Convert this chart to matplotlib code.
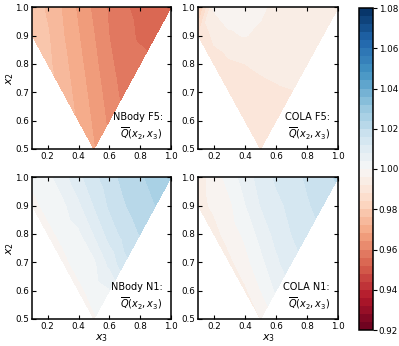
import numpy as np
import matplotlib
matplotlib.use('Agg')
import matplotlib.pyplot as plt
import matplotlib.tri as mtri

nan = np.nan

# grid of triangle configurations: columns x3, rows x2
x3_grid = [0.1, 0.2, 0.3, 0.4, 0.5, 0.6, 0.7, 0.8, 0.9, 1.0]
x2_grid = [1.0, 0.9, 0.8, 0.7, 0.6, 0.5]

# reduced bispectrum ratio
q_nbody_f5 = [
    [0.9785, 0.9753, 0.9715, 0.9672, 0.9630, 0.9593, 0.9563, 0.9552, 0.9543, 0.9535],
    [0.9790, 0.9764, 0.9722, 0.9682, 0.9641, 0.9599, 0.9570, 0.9555, 0.9547, nan],
    [nan, 0.9770, 0.9733, 0.9692, 0.9651, 0.9609, 0.9576, 0.9570, nan, nan],
    [nan, nan, 0.9743, 0.9702, 0.9662, 0.9620, 0.9585, nan, nan, nan],
    [nan, nan, nan, 0.9712, 0.9672, 0.9630, nan, nan, nan, nan],
    [nan, nan, nan, nan, 0.9682, nan, nan, nan, nan, nan],
]
q_cola_f5 = [
    [0.9780, 0.9965, 0.9980, 0.9980, 0.9970, 0.9945, 0.9945, 0.9945, 0.9945, 0.9940],
    [0.9880, 0.9930, 0.9955, 0.9962, 0.9950, 0.9942, 0.9942, 0.9942, 0.9942, nan],
    [nan, 0.9900, 0.9912, 0.9920, 0.9926, 0.9930, 0.9935, 0.9940, nan, nan],
    [nan, nan, 0.9900, 0.9905, 0.9910, 0.9915, 0.9918, nan, nan, nan],
    [nan, nan, nan, 0.9885, 0.9895, 0.9905, nan, nan, nan, nan],
    [nan, nan, nan, nan, 0.9885, nan, nan, nan, nan, nan],
]
q_nbody_n1 = [
    [1.0008, 1.0027, 1.0062, 1.0107, 1.0148, 1.0183, 1.0213, 1.0235, 1.0252, 1.0265],
    [0.9990, 1.0010, 1.0030, 1.0070, 1.0120, 1.0165, 1.0197, 1.0222, 1.0240, nan],
    [nan, 0.9990, 1.0010, 1.0030, 1.0080, 1.0135, 1.0175, 1.0202, nan, nan],
    [nan, nan, 0.9990, 1.0015, 1.0030, 1.0090, 1.0150, nan, nan, nan],
    [nan, nan, nan, 0.9990, 1.0015, 1.0035, nan, nan, nan, nan],
    [nan, nan, nan, nan, 0.9995, nan, nan, nan, nan, nan],
]
q_cola_n1 = [
    [0.9945, 0.9975, 1.0018, 1.0058, 1.0095, 1.0126, 1.0144, 1.0166, 1.0190, 1.0205],
    [0.9945, 0.9968, 0.9991, 1.0036, 1.0080, 1.0109, 1.0130, 1.0155, 1.0175, nan],
    [nan, 0.9945, 0.9978, 1.0008, 1.0052, 1.0092, 1.0120, 1.0140, nan, nan],
    [nan, nan, 0.9950, 0.9986, 1.0027, 1.0071, 1.0105, nan, nan, nan],
    [nan, nan, nan, 0.9952, 0.9999, 1.0044, nan, nan, nan, nan],
    [nan, nan, nan, nan, 0.9960, nan, nan, nan, nan, nan],
]

panels = [
    (q_nbody_f5, 'NBody F5:'),
    (q_cola_f5, 'COLA F5:'),
    (q_nbody_n1, 'NBody N1:'),
    (q_cola_n1, 'COLA N1:'),
]

levels = np.linspace(0.92, 1.08, 41)

X3, X2 = np.meshgrid(x3_grid, x2_grid)

W, H = 399, 346
fig = plt.figure(figsize=(W/100, H/100), dpi=100)

# axes boxes in pixels: left, top, right, bottom
boxes = [
    (32.3, 7.3, 171.0, 149.0),
    (198.3, 7.3, 338.3, 149.0),
    (32.3, 177.3, 171.0, 319.0),
    (198.3, 177.3, 338.3, 319.0),
]

cs = None
for i, ((q, name), (l, t, r, b)) in enumerate(zip(panels, boxes)):
    ax = fig.add_axes([l/W, 1 - b/H, (r - l)/W, (b - t)/H])
    q = np.array(q)
    ok = ~np.isnan(q)
    tri = mtri.Triangulation(X3[ok], X2[ok])
    cs = ax.tricontourf(tri, q[ok], levels=levels, cmap='RdBu')
    ax.set_xlim(0.1, 1.0)
    ax.set_ylim(0.5, 1.0)
    ax.set_xticks([0.2, 0.4, 0.6, 0.8, 1.0])
    ax.set_yticks([0.5, 0.6, 0.7, 0.8, 0.9, 1.0])
    ax.tick_params(direction='in', top=True, right=True, labelsize=6.3,
                   length=3, width=0.8, pad=2.5)
    for sp in ax.spines.values():
        sp.set_linewidth(1.1)
    if i % 2 == 0:
        ax.set_ylabel('$x_2$', fontsize=8)
        ax.yaxis.set_label_coords(-0.12, 0.5)
    if i >= 2:
        ax.set_xlabel('$x_3$', fontsize=8)
        ax.xaxis.set_label_coords(0.5, -0.095)
    ax.text(0.94, 0.05, name + '\n' + r'$\overline{Q}(x_2,x_3)$',
            transform=ax.transAxes, ha='right', va='bottom',
            multialignment='right', fontsize=7, linespacing=1.35)

cax = fig.add_axes([359.3/W, 1 - 330/H, 14/W, (330 - 8)/H])
cb = fig.colorbar(cs, cax=cax, ticks=np.arange(0.92, 1.0801, 0.02))
cb.ax.set_yticklabels(['%.2f' % v for v in np.arange(0.92, 1.0801, 0.02)])
cb.ax.tick_params(labelsize=6.3, length=3, width=0.8, pad=1)
cb.outline.set_linewidth(1.1)

fig.savefig('out.png', dpi=100)
